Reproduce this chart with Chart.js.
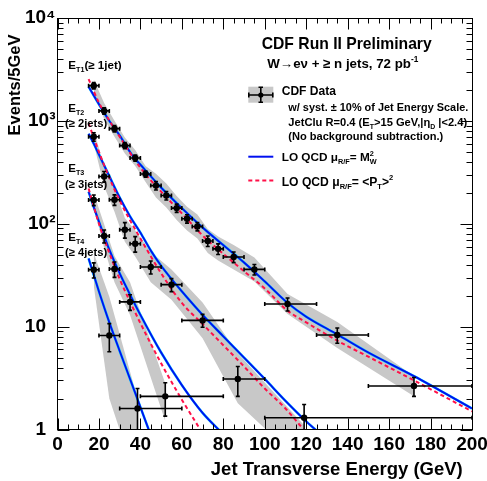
<!DOCTYPE html>
<html><head><meta charset="utf-8">
<script src="https://cdn.jsdelivr.net/npm/chart.js@4.4.1/dist/chart.umd.min.js"></script>
<style>html,body{margin:0;padding:0;background:#fff;}canvas{display:block;}</style>
</head><body>
<canvas id="c" width="487" height="481"></canvas>
<script>
// ---------------- DATA ----------------
// ET1 (>=1 jet)
const et1E   = [17.5,22.5,27.5,32.5,37.5,42.5,47.5,52.5,57.5,62.5,67.5,72.5,77.5,85,95,111,135,172];
const et1Lo  = [15,20,25,30,35,40,45,50,55,60,65,70,75,80,90,100,125,150];
const et1Hi  = [20,25,30,35,40,45,50,55,60,65,70,75,80,90,100,125,150,200];
const et1V   = [2200,1250,840,575,435,305,235,188,142,112,94,68,57,47.5,36,16.6,8.3,2.65];
const et1Err = [155,88,59,40,30,21,22,18,13,10.5,8.8,8,6.7,5.6,4.2,2.4,1.4,0.55];
const et1BandUp = [2520,1495,1005,688,520,365,307,246,186,146,123,89,75,62,47,20.8,11.1,3.3];
const et1BandLo = [1920,1045,702,481,364,255,180,144,109,86,72,52,44,36,27.5,13.3,6.2,2.1];
// ET2 (>=2 jets)
const et2E   = [17.5,22.5,27.5,32.5,37.5,45,55,70,87,119];
const et2Lo  = [15,20,25,30,35,40,50,60,80,100];
const et2Hi  = [20,25,30,35,40,50,60,80,100,200];
const et2V   = [700,288,171,87.5,64,38,25.6,11.5,3.1,1.3];
const et2Err = [66,34,20,15,11,5.5,3.7,1.65,1.0,0.45];
const et2BandUp = [819,360,224,114,86,53,36,17.2,5.5,1.1];
const et2BandLo = [598,230,131,67,48,27,18.3,7.7,1.8,0.45];
// ET3 (>=3 jets)
const et3E   = [17.5,22.5,27.5,35,52];
const et3Lo  = [15,20,25,30,40];
const et3Hi  = [20,25,30,40,80];
const et3V   = [170,76,36.3,17.4,2.1];
const et3Err = [20,11,6.2,3,0.75];
const et3BandUp = [199,99,48.5,27,2.8];
const et3BandLo = [145,58,27,13,1.2];
// ET4 (>=4 jets)
const et4E   = [17.5,25,38.6];
const et4Lo  = [15,20,30];
const et4Hi  = [20,30,60];
const et4V   = [35.7,8.2,1.6];
const et4Err = [6,2.5,0.9];
const et4BandUp = [52,19.5,2.0];
const et4BandLo = [25,2.0,0.3];
// LO QCD, mu = M_W^2 (blue)
const qcdW1E = [15,20,25,30,36.5,40,50,60,70,80,90,100,111,120,135,150,172,200];
const qcdW1V = [2150,1450,1000,720,450,375,225,142,92,62,42,27.5,17,12.5,8.4,5.6,3.3,1.6];
const qcdW2E = [15,17.5,20,25,30,35,40,45,50,55,60,70,80,90,100,110,120,130];
const qcdW2V = [750,600,470,290,180,118,82,55,39,29,22,13,8.05,5.0,3.1,1.9,1.2,0.8];
const qcdW3E = [15,17.5,20,25,30,35,40,50,60,70,80];
const qcdW3V = [205,145,105,56,33,20.5,13,5.6,2.7,1.45,0.9];
const qcdW4E = [15,20,25,30,35,40,45];
const qcdW4V = [46,22,11,5.8,3.1,1.65,0.88];
// LO QCD, mu = <PT>^2 (red dashed)
const qcdP1E = [15,20,25,30,40,50,60,70,80,90,100,111,120,135,150,172,200];
const qcdP1V = [2550,1500,1010,700,350,205,126,77,51,34.5,23.5,14.3,11,7.3,5.1,3.0,1.5];
const qcdP2E = [15,20,25,30,40,50,60,70,80,90,100,110,120];
const qcdP2V = [950,500,280,168,72,33,17,10.6,6.6,4.1,2.5,1.6,0.93];
const qcdP3E = [15,20,25,30,35,40,50,60,70];
const qcdP3V = [220,100,52,29,17.5,10.8,4.4,1.95,0.92];
// axis ticks
const yTickValues = [1,10,100,1000,10000];
const yTickLabels = ['1\u2002','10\u2002','10\u00b2','10\u00b3','10\u2074'];
const xMin = 0, xMax = 200, xStep = 20;

// ---------------- HELPERS ----------------
const FAM = '"Liberation Sans", Arial, Helvetica, sans-serif';
const pts = (xs, ys) => xs.map((v, i) => ({x: v, y: ys[i]}));
const series = [
  {E: et1E, lo: et1Lo, hi: et1Hi, v: et1V, err: et1Err},
  {E: et2E, lo: et2Lo, hi: et2Hi, v: et2V, err: et2Err},
  {E: et3E, lo: et3Lo, hi: et3Hi, v: et3V, err: et3Err},
  {E: et4E, lo: et4Lo, hi: et4Hi, v: et4V, err: et4Err}
];
const bands = [[et1E, et1BandUp, et1BandLo],[et2E, et2BandUp, et2BandLo],[et3E, et3BandUp, et3BandLo],[et4E, et4BandUp, et4BandLo]];
const blueCurves = [[qcdW1E,qcdW1V],[qcdW2E,qcdW2V],[qcdW3E,qcdW3V],[qcdW4E,qcdW4V]];
const redCurves  = [[qcdP1E,qcdP1V],[qcdP2E,qcdP2V],[qcdP3E,qcdP3V]];

const datasets = [];
bands.forEach(([e, up, lo]) => {
  datasets.push({type:'line', data: pts(e, up), borderWidth:0, pointRadius:0, tension:0,
    backgroundColor:'#c8c8c8', fill:'+1', order:10});
  datasets.push({type:'line', data: pts(e, lo), borderWidth:0, pointRadius:0, tension:0,
    fill:false, order:10});
});
blueCurves.forEach(([e, v]) => {
  datasets.push({type:'line', data: pts(e, v), borderColor:'#10d0ff', borderWidth:2.6, pointRadius:0,
    cubicInterpolationMode:'monotone', fill:false, order:6});
  datasets.push({type:'line', data: pts(e, v), borderColor:'#0010f0', borderWidth:1.8, pointRadius:0,
    cubicInterpolationMode:'monotone', fill:false, order:5});
});
redCurves.forEach(([e, v]) => {
  datasets.push({type:'line', data: pts(e, v), borderColor:'#ff1048', borderWidth:2, borderDash:[4,3],
    pointRadius:0, cubicInterpolationMode:'monotone', fill:false, order:4});
});
series.forEach(s => {
  datasets.push({type:'scatter', data: pts(s.E, s.v), pointRadius:3.2, pointBackgroundColor:'#000',
    pointBorderColor:'#000', pointBorderWidth:0, order:1});
});

function F(sz){ return 'bold ' + sz.toFixed(2) + 'px ' + FAM; }
function layoutRich(ctx, segs, size){
  const parts = []; let w = 0;
  for (const s of segs){
    if (s.sup !== undefined && s.sub !== undefined){
      const fs = size*0.62; ctx.font = F(fs);
      const w1 = ctx.measureText(s.sup).width, w2 = ctx.measureText(s.sub).width;
      parts.push({t:s.sup, fs, x:w, dy:-size*0.42});
      parts.push({t:s.sub, fs, x:w, dy:size*0.28});
      w += Math.max(w1, w2);
    } else if (s.sub !== undefined){
      const fs = size*0.62; ctx.font = F(fs);
      parts.push({t:s.sub, fs, x:w, dy:size*0.28}); w += ctx.measureText(s.sub).width;
    } else if (s.sup !== undefined){
      const fs = size*0.62; ctx.font = F(fs);
      parts.push({t:s.sup, fs, x:w, dy:-size*0.45}); w += ctx.measureText(s.sup).width;
    } else {
      ctx.font = F(size);
      parts.push({t:s.t, fs:size, x:w, dy:0}); w += ctx.measureText(s.t).width;
    }
  }
  return {parts, w};
}
function drawRich(ctx, x, y, segs, size, align, targetW){
  let L = layoutRich(ctx, segs, size);
  if (targetW){ size = size*targetW/L.w; L = layoutRich(ctx, segs, size); }
  const x0 = align === 'center' ? x - L.w/2 : x;
  ctx.textAlign = 'left'; ctx.textBaseline = 'alphabetic'; ctx.fillStyle = '#000';
  for (const p of L.parts){ ctx.font = F(p.fs); ctx.fillText(p.t, x0 + p.x, y + p.dy); }
}

const deco = {
  id:'deco',
  afterDatasetsDraw(chart){
    const {ctx, chartArea:a, scales:{x, y}} = chart;
    ctx.save();
    ctx.beginPath(); ctx.rect(a.left, a.top, a.right-a.left, a.bottom-a.top); ctx.clip();
    ctx.strokeStyle = '#000'; ctx.lineWidth = 1.6;
    series.forEach(s => {
      s.E.forEach((e, i) => {
        const py = y.getPixelForValue(s.v[i]);
        const xl = x.getPixelForValue(s.lo[i]), xh = x.getPixelForValue(s.hi[i]), px = x.getPixelForValue(e);
        const yu = y.getPixelForValue(s.v[i] + s.err[i]);
        const yd = y.getPixelForValue(Math.max(s.v[i] - s.err[i], 0.05));
        ctx.beginPath();
        ctx.moveTo(xl, py); ctx.lineTo(xh, py);
        ctx.moveTo(xl, py-2); ctx.lineTo(xl, py+2);
        ctx.moveTo(xh, py-2); ctx.lineTo(xh, py+2);
        ctx.moveTo(px, yu); ctx.lineTo(px, yd);
        ctx.moveTo(px-2, yu); ctx.lineTo(px+2, yu);
        ctx.moveTo(px-2, yd); ctx.lineTo(px+2, yd);
        ctx.stroke();
      });
    });
    ctx.restore();
  },
  afterDraw(chart){
    const {ctx, chartArea:a, scales:{x, y}} = chart;
    ctx.save();
    ctx.strokeStyle = '#000'; ctx.lineWidth = 1;
    const L = Math.floor(a.left)+0.5, R = Math.floor(a.right)+0.5, T = Math.floor(a.top)+0.5, B = Math.floor(a.bottom)+0.5;
    ctx.strokeRect(L, T, R-L, B-T);
    ctx.beginPath();
    for (let v = xMin; v <= xMax + 1e-9; v += 5){
      const px = Math.round(x.getPixelForValue(v)) + 0.5;
      const len = (v % xStep === 0) ? 11 : 5;
      ctx.moveTo(px, B); ctx.lineTo(px, B-len);
      ctx.moveTo(px, T); ctx.lineTo(px, T+len);
    }
    for (let d = 0; d < 4; d++) for (let m = 1; m < 10; m++){
      const py = Math.round(y.getPixelForValue(m*Math.pow(10, d))) + 0.5;
      const len = m === 1 ? 12 : 6;
      ctx.moveTo(L, py); ctx.lineTo(L+len, py);
      ctx.moveTo(R, py); ctx.lineTo(R-len, py);
    }
    ctx.stroke();

    // title block
    drawRich(ctx, 346.7, 49, [{t:'CDF Run II Preliminary'}], 16, 'center', 170);
    drawRich(ctx, 267.3, 68.3, [{t:'W\u2192e\u03bd + \u2265 n jets, 72 pb'},{sup:'-1'}], 12, 'left', 151);
    // legend markers
    ctx.fillStyle = '#c8c8c8'; ctx.fillRect(248.3, 86.7, 25, 16);
    ctx.strokeStyle = '#000'; ctx.lineWidth = 1.6; ctx.beginPath();
    ctx.moveTo(248.3, 95); ctx.lineTo(273.3, 95);
    ctx.moveTo(248.8, 92.5); ctx.lineTo(248.8, 97.5); ctx.moveTo(272.8, 92.5); ctx.lineTo(272.8, 97.5);
    ctx.moveTo(260.8, 87); ctx.lineTo(260.8, 102.5);
    ctx.moveTo(258.5, 87.2); ctx.lineTo(263, 87.2); ctx.moveTo(258.5, 102.3); ctx.lineTo(263, 102.3);
    ctx.stroke();
    ctx.fillStyle = '#000'; ctx.beginPath(); ctx.arc(260.8, 95, 2.6, 0, Math.PI*2); ctx.fill();
    ctx.lineWidth = 2; ctx.strokeStyle = '#0010f0'; ctx.beginPath(); ctx.moveTo(248.3, 156.7); ctx.lineTo(273.3, 156.7); ctx.stroke();
    ctx.strokeStyle = '#ff1048'; ctx.setLineDash([4,3]); ctx.beginPath(); ctx.moveTo(248.3, 180.5); ctx.lineTo(273.3, 180.5); ctx.stroke();
    ctx.setLineDash([]);
    // legend text
    drawRich(ctx, 281.7, 95, [{t:'CDF Data'}], 11.5, 'left', 54.3);
    drawRich(ctx, 288.3, 110.7, [{t:'w/ syst. \u00b1 10% of Jet Energy Scale.'}], 11, 'left', 180);
    drawRich(ctx, 288.3, 125.7, [{t:'JetClu R=0.4 (E'},{sub:'T'},{t:'>15 GeV,|\u03b7'},{sub:'D'},{t:' |<2.4)'}], 11, 'left', 179);
    drawRich(ctx, 288.3, 140, [{t:'(No background subtraction.)'}], 11, 'left', 155);
    drawRich(ctx, 281.7, 161, [{t:'LO QCD \u03bc'},{sub:'R/F'},{t:'= M'},{sup:'2', sub:'W'}], 11.5, 'left', 95);
    drawRich(ctx, 281.7, 185.7, [{t:'LO QCD \u03bc'},{sub:'R/F'},{t:'= <P'},{sub:'T'},{t:'>'},{sup:'2'}], 11.5, 'left', 111.6);
    // series labels
    drawRich(ctx, 68.3, 69, [{t:'E'},{sub:'T1'},{t:'(\u2265 1jet)'}], 11.5, 'left', 53.4);
    drawRich(ctx, 68.3, 111.7, [{t:'E'},{sub:'T2'}], 11.5, 'left');
    drawRich(ctx, 65, 127.3, [{t:'(\u2265 2jets)'}], 11.5, 'left', 42.3);
    drawRich(ctx, 68.3, 171.7, [{t:'E'},{sub:'T3'}], 11.5, 'left');
    drawRich(ctx, 65, 188.3, [{t:'(\u2265 3jets)'}], 11.5, 'left', 42.3);
    drawRich(ctx, 68.3, 241, [{t:'E'},{sub:'T4'}], 11.5, 'left');
    drawRich(ctx, 65, 256, [{t:'(\u2265 4jets)'}], 11.5, 'left', 42.3);
    ctx.restore();
  }
};

new Chart(document.getElementById('c'), {
  type:'scatter',
  data:{datasets},
  plugins:[deco],
  options:{
    responsive:false, animation:false, devicePixelRatio:1,
    layout:{padding:{left:0, right:15, top:18, bottom:0}},
    plugins:{legend:{display:false}, tooltip:{enabled:false}},
    scales:{
      x:{type:'linear', min:xMin, max:xMax,
        ticks:{stepSize:xStep, color:'#000', font:{family:FAM, size:19, weight:'bold'}, padding:4, maxRotation:0, autoSkip:false},
        grid:{display:false, drawTicks:false}, border:{display:false},
        title:{display:true, text:'Jet Transverse Energy (GeV)\u2002', align:'end', color:'#000',
          font:{family:FAM, size:18.5, weight:'bold'}, padding:{top:0, bottom:0}},
        afterFit(s){ s.height = 51.5; s.paddingLeft = 0; s.paddingRight = 0; }
      },
      y:{type:'logarithmic', min:1, max:10000,
        afterBuildTicks(s){ s.ticks = yTickValues.map(v => ({value:v, major:true})); },
        ticks:{color:'#000', font:{family:FAM, size:19, weight:'bold'}, padding:2, autoSkip:false,
          callback:(v) => { const i = yTickValues.indexOf(v); return i >= 0 ? yTickLabels[i] : ''; }},
        grid:{display:false, drawTicks:false}, border:{display:false},
        title:{display:true, text:'Events/5GeV\u2003', align:'end', color:'#000',
          font:{family:FAM, size:16.5, weight:'bold'}, padding:{top:6, bottom:0}},
        afterFit(s){ s.width = 57.5; s.paddingTop = 0; s.paddingBottom = 0; }
      }
    }
  }
});
</script>
</body></html>
